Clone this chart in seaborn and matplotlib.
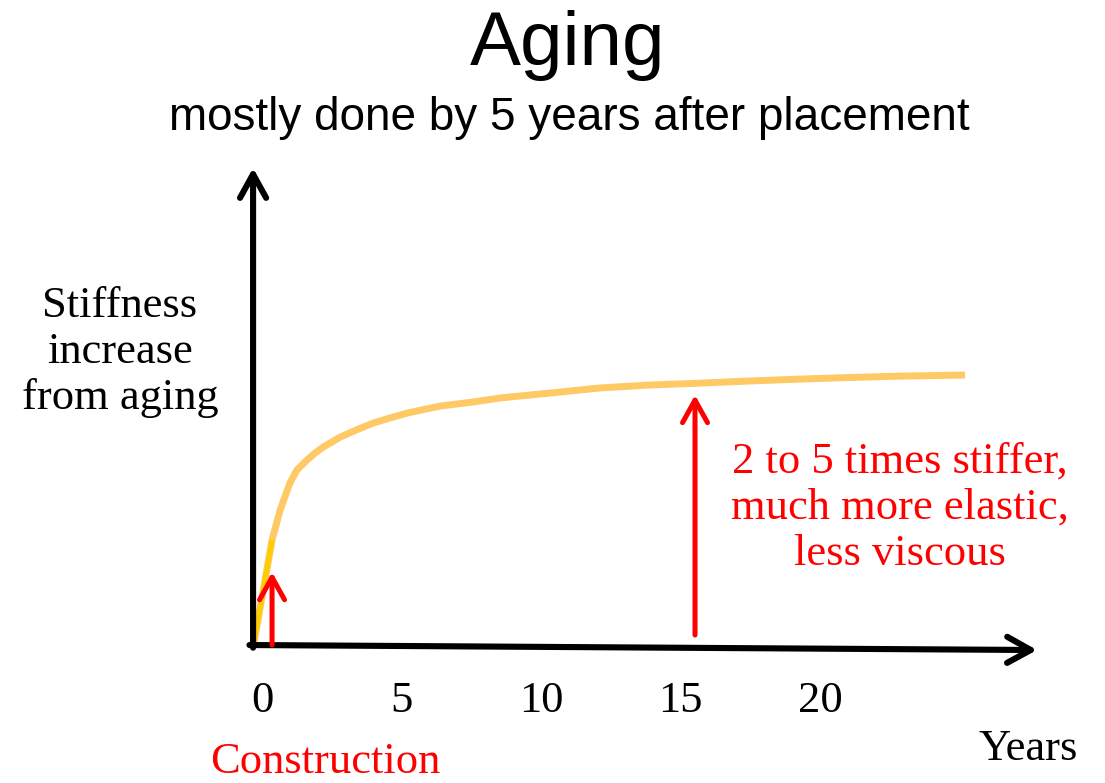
import numpy as np
import pandas as pd
import matplotlib
matplotlib.use("Agg")
import matplotlib.pyplot as plt
import seaborn as sns

# stiffness-increase curve (years, relative stiffness)
curve_years = [-0.29, 0.36, 0.65, 1.0, 1.25, 1.61, 1.9, 2.19, 2.8, 3.37, 3.98,
               4.59, 5.2, 6.38, 7.56, 8.53, 10.3, 12.1, 13.9, 15.7, 17.5,
               19.3, 21.1, 22.9, 25.2]
curve_stiff = [0.007, 0.389, 0.50, 0.60, 0.648, 0.685, 0.711, 0.733, 0.770,
               0.796, 0.822, 0.841, 0.859, 0.885, 0.90, 0.915, 0.933, 0.952,
               0.963, 0.970, 0.978, 0.985, 0.991, 0.996, 1.0]

# initial (construction) rise, highlighted in yellow
early_years = [-0.29, 0.36]
early_stiff = [0.007, 0.389]

# red arrows: (year, bottom, top)
small_arrow = (0.36, 0.0, 0.27)
big_arrow = (15.52, 0.037, 0.926)

tick_years = [0, 5, 10, 15, 20]
tick_labels = ["0", "5", "10", "15", "20"]

sns.set_style("white")
plt.rcParams['font.family'] = ['Liberation Serif', 'DejaVu Serif']
plt.rcParams['text.color'] = 'black'

fig = plt.figure(figsize=(11.05, 7.83), dpi=100)
ax = fig.add_axes([0, 0, 1, 1])
ax.set_xlim(-9.391, 30.215)
ax.set_ylim(-0.511, 2.389)
ax.axis("off")

# axes drawn as arrows
axis_style = dict(arrowstyle="->,head_length=0.85,head_width=0.47", lw=4.4,
                  color="black", shrinkA=0, shrinkB=0, mutation_scale=20)
ax.annotate("", xy=(-0.32, 1.767), xytext=(-0.32, -0.01), arrowprops=axis_style)
ax.annotate("", xy=(27.78, -0.0185), xytext=(-0.45, 0.0), arrowprops=axis_style)

df_curve = pd.DataFrame({"year": curve_years, "stiffness": curve_stiff})
df_early = pd.DataFrame({"year": early_years, "stiffness": early_stiff})
sns.lineplot(data=df_curve, x="year", y="stiffness", ax=ax, color="#FFC966",
             lw=5.0, sort=False, solid_capstyle="butt", solid_joinstyle="round")
sns.lineplot(data=df_early, x="year", y="stiffness", ax=ax, color="#FFCC00",
             lw=3.6, sort=False, solid_capstyle="butt")

red_style = dict(arrowstyle="->,head_length=0.9,head_width=0.5", lw=3.6,
                 color="#FF0000", shrinkA=0, shrinkB=0, mutation_scale=18)
for xa, y0, y1 in (small_arrow, big_arrow):
    ax.annotate("", xy=(xa, y1), xytext=(xa, y0), arrowprops=red_style)

# tick labels
for t, lab in zip(tick_years, tick_labels):
    ax.text(t, -0.248, lab, ha="center", va="baseline", fontsize=32)

W, H = 1105, 783
def fx(x):
    return x / W
def fy(y):
    return 1 - y / H

fig.text(fx(568), fy(65), "Aging", ha="center", va="baseline", fontsize=55,
         family=["Liberation Sans", "DejaVu Sans"])
fig.text(fx(569), fy(130), "mostly done by 5 years after placement",
         ha="center", va="baseline", fontsize=33,
         family=["Liberation Sans", "DejaVu Sans"])
fig.text(fx(120), fy(352), "Stiffness\nincrease\nfrom aging", ha="center",
         va="center", fontsize=32, linespacing=1.2, multialignment="center")
fig.text(fx(900), fy(508), "2 to 5 times stiffer,\nmuch more elastic,\nless viscous",
         ha="center", va="center", fontsize=32, linespacing=1.2,
         multialignment="center", color="#FF0000")
fig.text(fx(1028), fy(760), "Years", ha="center", va="baseline", fontsize=32)
fig.text(fx(325), fy(773), "Construction", ha="center", va="baseline",
         fontsize=32, color="#FF0000")

fig.savefig("out.png", dpi=100)
